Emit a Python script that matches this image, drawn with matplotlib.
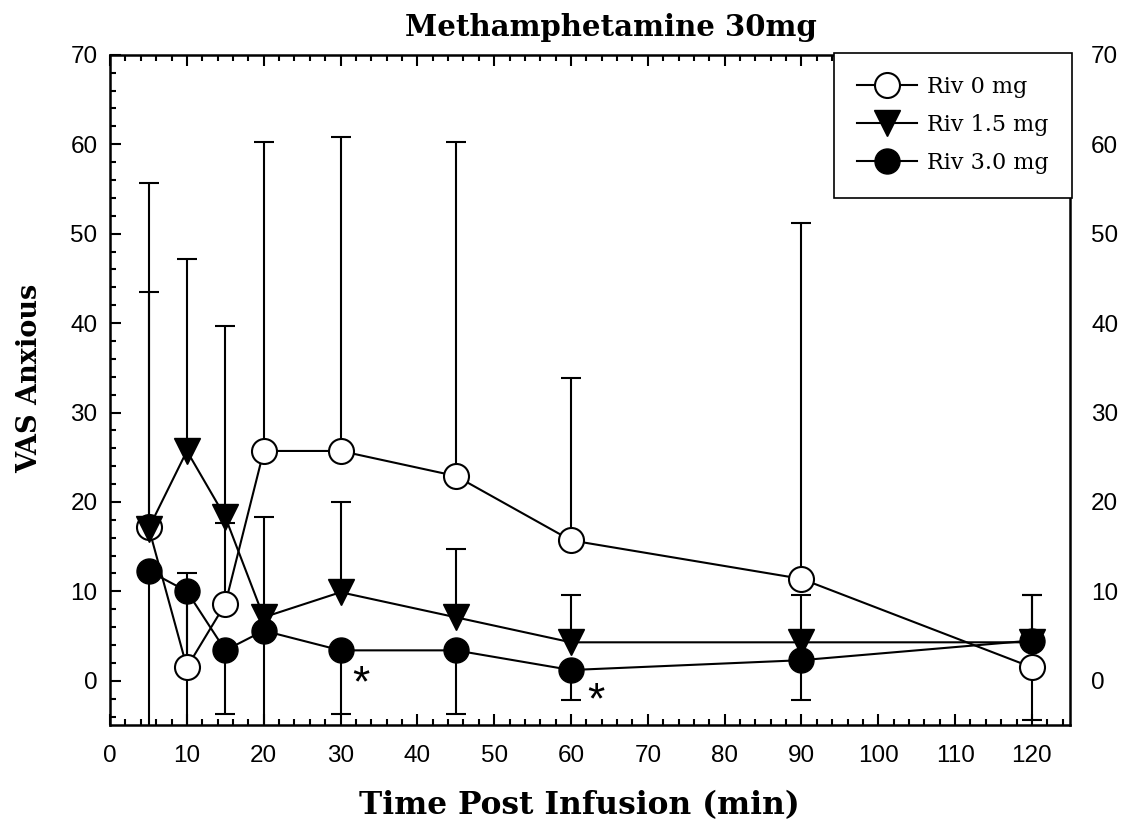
import matplotlib
matplotlib.use('Agg')
import matplotlib.pyplot as plt
import numpy as np
from matplotlib.ticker import MultipleLocator

# data
time = [5, 10, 15, 20, 30, 45, 60, 90, 120]

riv0 = [17.2, 1.5, 8.6, 25.7, 25.7, 22.9, 15.7, 11.4, 1.5]
riv0_err = [38.5, 10.6, 9.0, 34.6, 35.1, 37.3, 18.2, 39.8, 8.1]

riv15 = [17.0, 25.7, 18.3, 7.1, 9.9, 7.1, 4.3, 4.3, 4.3]
riv15_err = [26.5, 21.5, 21.4, 11.2, 10.1, 7.6, 5.3, 5.3, 5.3]

riv30 = [12.3, 10.0, 3.4, 5.6, 3.4, 3.4, 1.2, 2.3, 4.5]
riv30_err = [31.0, 20.0, 7.1, 14.0, 7.1, 7.1, 3.4, 4.4, 8.9]

labels = ['Riv 0 mg', 'Riv 1.5 mg', 'Riv 3.0 mg']
stars = [(32.7, -0.5), (63.3, -2.4)]

serif = 'DejaVu Serif'
sans = 'Liberation Sans'

fig = plt.figure(figsize=(11.35, 8.31), dpi=100)
ax = fig.add_axes([0.097, 0.127, 0.846, 0.807])

lw = 1.5


def one_sided_bars(x, y, err, direction):
    # SigmaPlot style error bar: only one direction, cap at the end
    x = np.array(x)
    y = np.array(y)
    end = y + direction * np.array(err)
    ax.vlines(x, y, end, color='black', lw=lw, zorder=2)
    ax.plot(x, end, ls='none', marker='_', ms=15, mew=lw, color='black', zorder=2)


one_sided_bars(time, riv0, riv0_err, 1)
one_sided_bars(time, riv15, riv15_err, 1)
one_sided_bars(time, riv30, riv30_err, -1)

l0, = ax.plot(time, riv0, '-o', color='black', mfc='white', mec='black',
              mew=1.5, ms=18, lw=lw, zorder=3, label=labels[0])
l1, = ax.plot(time, riv15, '-v', color='black', mfc='black', mec='black',
              ms=19, lw=lw, zorder=4, label=labels[1])
l2, = ax.plot(time, riv30, '-o', color='black', mfc='black', mec='black',
              ms=18, lw=lw, zorder=5, label=labels[2])

for sx, sy in stars:
    ax.text(sx, sy, '*', fontsize=32, fontfamily=sans, ha='center', va='center')

ax.set_xlim(0, 125)
ax.set_ylim(-5, 70)
ax.set_xticks(range(0, 121, 10))
ax.set_yticks(range(0, 71, 10))
ax.xaxis.set_minor_locator(MultipleLocator(2))
ax.yaxis.set_minor_locator(MultipleLocator(2))

ax.tick_params(which='both', direction='in', top=True, right=True,
               width=1.5, colors='black')
ax.tick_params(which='major', length=8, labelsize=17.5)
ax.tick_params(axis='x', which='major', pad=14)
ax.tick_params(axis='y', which='major', pad=9)
ax.tick_params(which='minor', length=4)
for t in ax.get_xticklabels() + ax.get_yticklabels():
    t.set_fontfamily(sans)

# right-hand labels repeat the left axis
ax2 = ax.twinx()
ax2.set_ylim(ax.get_ylim())
ax2.set_yticks(range(0, 71, 10))
ax2.tick_params(axis='y', which='major', direction='in', length=0,
                labelsize=17.5, pad=15)
for t in ax2.get_yticklabels():
    t.set_fontfamily(sans)

for s in ax.spines.values():
    s.set_linewidth(1.8)
for s in ax2.spines.values():
    s.set_visible(False)

fig.text(611 / 1135, 1 - 28 / 831, 'Methamphetamine 30mg', fontfamily=serif,
         fontweight='bold', fontsize=21, ha='center', va='center')
fig.text(579 / 1135, 1 - 806 / 831, 'Time Post Infusion (min)', fontfamily=serif,
         fontweight='bold', fontsize=22.5, ha='center', va='center')
fig.text(30 / 1135, 1 - 378 / 831, 'VAS Anxious', fontfamily=serif,
         fontweight='bold', fontsize=19.5, ha='center', va='center', rotation=90)

leg = ax2.legend(handles=[l0, l1, l2], loc='upper right', bbox_to_anchor=(1.002, 1.003),
                 borderaxespad=0, fancybox=False, edgecolor='black', framealpha=1,
                 prop={'family': serif, 'size': 16}, handlelength=2.7,
                 borderpad=1.05, labelspacing=0.72, handletextpad=0.45)
leg.get_frame().set_linewidth(1.2)
leg.set_zorder(10)

fig.savefig('out.png', dpi=100)
